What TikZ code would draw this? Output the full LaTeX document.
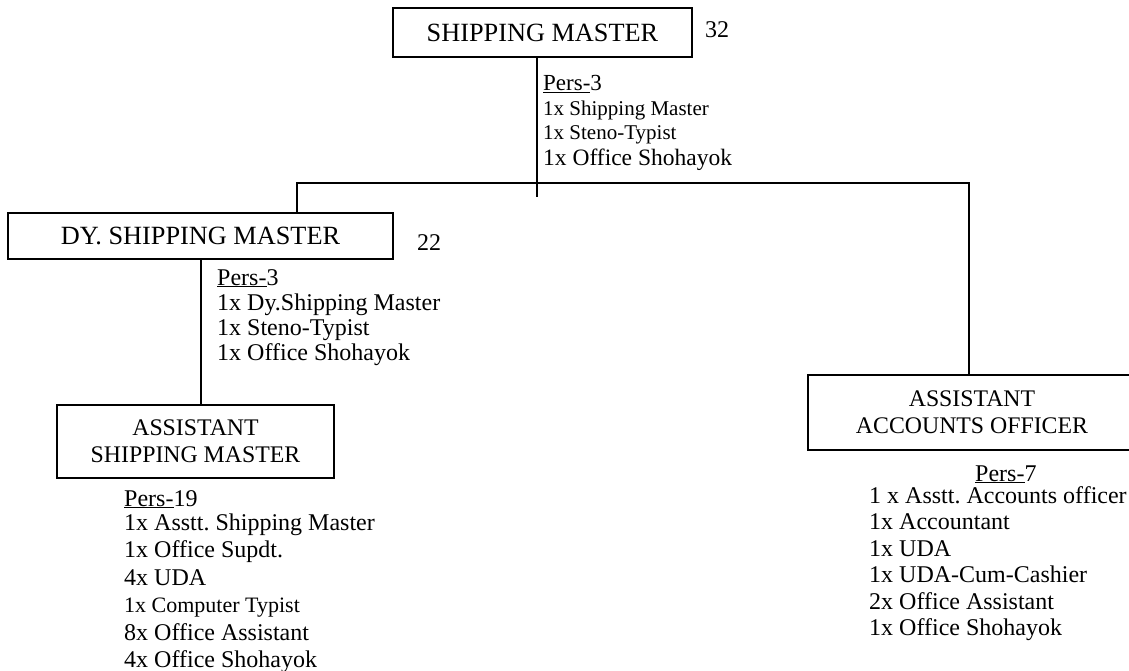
\documentclass[tikz,border=0pt]{standalone}
\usepackage{fontspec}
\setmainfont{Liberation Serif}
\usetikzlibrary{calc,positioning}

\newcommand{\staffcol}[1]{\begin{tabular}[t]{@{}l@{}}#1\end{tabular}}
\frenchspacing

\begin{document}
\begin{tikzpicture}[x=1pt, y=-1pt,
  post/.style={draw, line width=2.4pt, inner sep=0pt, align=center},
  link/.style={line width=2pt},
  staff/.style={anchor=base west, inner sep=0pt},
  tally/.style={inner sep=0pt, font=\fontsize{24}{27}\selectfont}]
  \useasboundingbox (0,0) rectangle (1129,671);
  % --- shipping master ---
  \node[post, minimum width=299pt, minimum height=49pt, font=\fontsize{26.3}{28}\selectfont]
    (sm) at (542.5,32.5) {SHIPPING MASTER};
  \node[tally] (sm-n) at (717,30) {32};
  \node[staff, font=\fontsize{23}{25}\selectfont] (sm-p) at (543,91) {\staffcol{%
    \underline{Pers-}3\\
    \fontsize{21}{25}\selectfont 1x Shipping Master\\[-1pt]
    \fontsize{21}{25}\selectfont 1x Steno-Typist\\[1pt]
    \fontsize{23.5}{25}\selectfont 1x Office Shohayok}};
  % --- dy. shipping master ---
  \node[post, minimum width=385pt, minimum height=46pt, font=\fontsize{26.3}{28}\selectfont]
    (dsm) at (200.5,236) {DY. SHIPPING MASTER};
  \node[tally] (dsm-n) at (429,243) {22};
  \node[staff, font=\fontsize{24}{25}\selectfont] (dsm-p) at (217,285) {\staffcol{%
    \underline{Pers-}3\\
    1x Dy.Shipping Master\\
    1x Steno-Typist\\
    1x Office Shohayok}};
  % --- assistant shipping master ---
  \node[post, minimum width=277pt, minimum height=73pt, font=\fontsize{23.8}{27}\selectfont]
    (asm) at (195.5,441.5) {ASSISTANT\\SHIPPING MASTER};
  \node[staff, font=\fontsize{24}{27.5}\selectfont] (asm-p) at (124,506) {\staffcol{%
    \underline{Pers-}19\\[-3.5pt]
    1x Asstt. Shipping Master\\
    1x Office Supdt.\\
    4x UDA\\
    \fontsize{22}{27.5}\selectfont 1x Computer Typist\\
    8x Office Assistant\\
    4x Office Shohayok}};
  % --- assistant accounts officer ---
  \node[post, minimum width=328pt, minimum height=75pt, font=\fontsize{23.8}{27}\selectfont]
    (aao) at (972,412.5) {ASSISTANT\\ACCOUNTS OFFICER};
  \node[staff, font=\fontsize{24}{26.5}\selectfont] (aao-p) at (975,481) {\underline{Pers-}7};
  \node[staff, font=\fontsize{24}{26.5}\selectfont] (aao-l) at (869,503) {\staffcol{%
    1 x Asstt. Accounts officer\\
    1x Accountant\\
    1x UDA\\
    1x UDA-Cum-Cashier\\
    2x Office Assistant\\
    1x Office Shohayok}};
  % --- links ---
  \coordinate (hub) at (537,183);
  \coordinate (stub) at (537,197);
  \draw[link] (sm.south -| hub) -- (stub);
  \draw[link] ([xshift=96.5pt]dsm.north) |- (hub) -| ([xshift=-3pt]aao.north);
  \draw[link] (dsm.south) -- (dsm.south |- asm.north);
\end{tikzpicture}
\end{document}
